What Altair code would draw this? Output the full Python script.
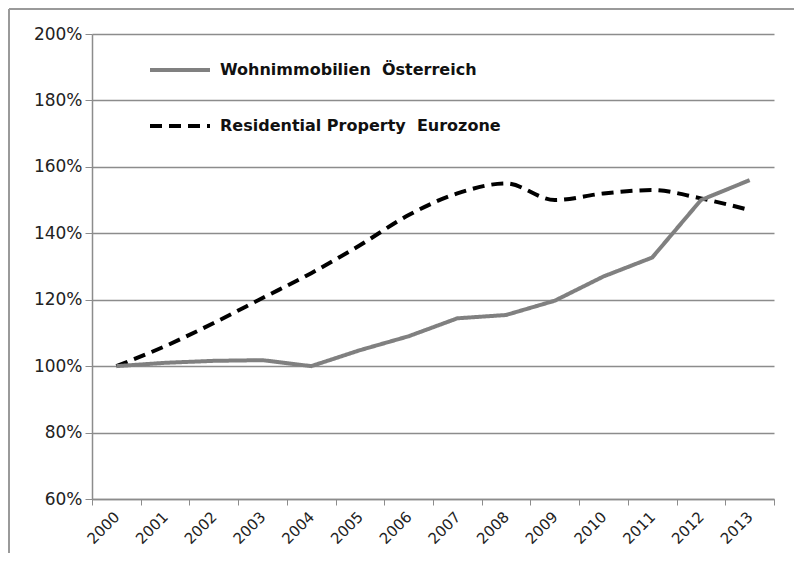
import altair as alt
import pandas as pd

years = [str(y) for y in range(2000, 2014)]
austria = [1.00, 1.01, 1.016, 1.018, 1.00, 1.048, 1.09, 1.144, 1.154, 1.197, 1.27, 1.327, 1.50, 1.56]
eurozone = [1.00, 1.06, 1.13, 1.205, 1.28, 1.364, 1.455, 1.52, 1.55, 1.50, 1.52, 1.53, 1.505, 1.47]
series_names = ["Wohnimmobilien\u00a0 Österreich", "Residential Property\u00a0 Eurozone"]
y_ticks = [0.6, 0.8, 1.0, 1.2, 1.4, 1.6, 1.8, 2.0]

df = pd.DataFrame({
    "year": years * 2,
    "value": austria + eurozone,
    "series": [series_names[0]] * len(years) + [series_names[1]] * len(years),
})

GRID = "#8c8c8c"
FONT = "DejaVu Sans"

legend = alt.Legend(
    title=None, orient="none", legendX=56, legendY=4,
    symbolType="stroke", symbolSize=3600, symbolStrokeWidth=4,
    labelFont=FONT, labelFontSize=16, labelFontWeight="bold", labelColor="#111",
    labelOffset=8, rowPadding=16, labelLimit=400,
)

x_enc = alt.X(
    "year:N", sort=years, bandPosition=0.5,
    scale=alt.Scale(type="band", paddingInner=0, paddingOuter=0),
    axis=alt.Axis(
        title=None, grid=False, tickBand="extent", tickSize=6,
        labelAngle=-45, labelAlign="right", labelBaseline="middle",
        labelFont=FONT, labelFontSize=15, labelColor="#222", labelPadding=9,
        domainColor=GRID, tickColor=GRID, domainWidth=1.5,
    ),
)
y_enc = alt.Y(
    "value:Q",
    scale=alt.Scale(domain=[0.6, 2.0], nice=False, zero=False),
    axis=alt.Axis(
        title=None, values=y_ticks, format=".0%", tickSize=7,
        labelFont=FONT, labelFontSize=17, labelColor="#222", labelPadding=3,
        gridColor=GRID, gridWidth=1.5, domainColor=GRID, tickColor=GRID, domainWidth=1.5,
    ),
)
color_enc = alt.Color(
    "series:N",
    scale=alt.Scale(domain=series_names, range=["#808080", "#000000"]),
    legend=legend,
)
dash_enc = alt.StrokeDash(
    "series:N",
    scale=alt.Scale(domain=series_names, range=[[1, 0], [12, 7]]),
    legend=legend,
)

base = alt.Chart(df).encode(x=x_enc, y=y_enc, color=color_enc, strokeDash=dash_enc)

euro_line = base.transform_filter(alt.datum.series == series_names[1]).mark_line(
    strokeWidth=4, interpolate="monotone"
)
aut_line = base.transform_filter(alt.datum.series == series_names[0]).mark_line(
    strokeWidth=4, interpolate="linear"
)

frame_left = alt.Chart(df).mark_rule(color="#9a9a9a", strokeWidth=2, clip=False).encode(
    x=alt.value(-83), y=alt.value(-25), y2=alt.value(530)
)
frame_top = alt.Chart(df).mark_rule(color="#9a9a9a", strokeWidth=2, clip=False).encode(
    x=alt.value(-83), x2=alt.value(710), y=alt.value(-25)
)

chart = alt.layer(euro_line, aut_line, frame_left, frame_top).properties(
    width=682, height=465,
    padding={"left": 84, "top": 26, "right": 20, "bottom": 54},
    autosize=alt.AutoSizeParams(type="none"),
    background="white",
).configure_view(stroke=None)

chart.save("out.html", embed_options={"renderer": "svg", "actions": False})
